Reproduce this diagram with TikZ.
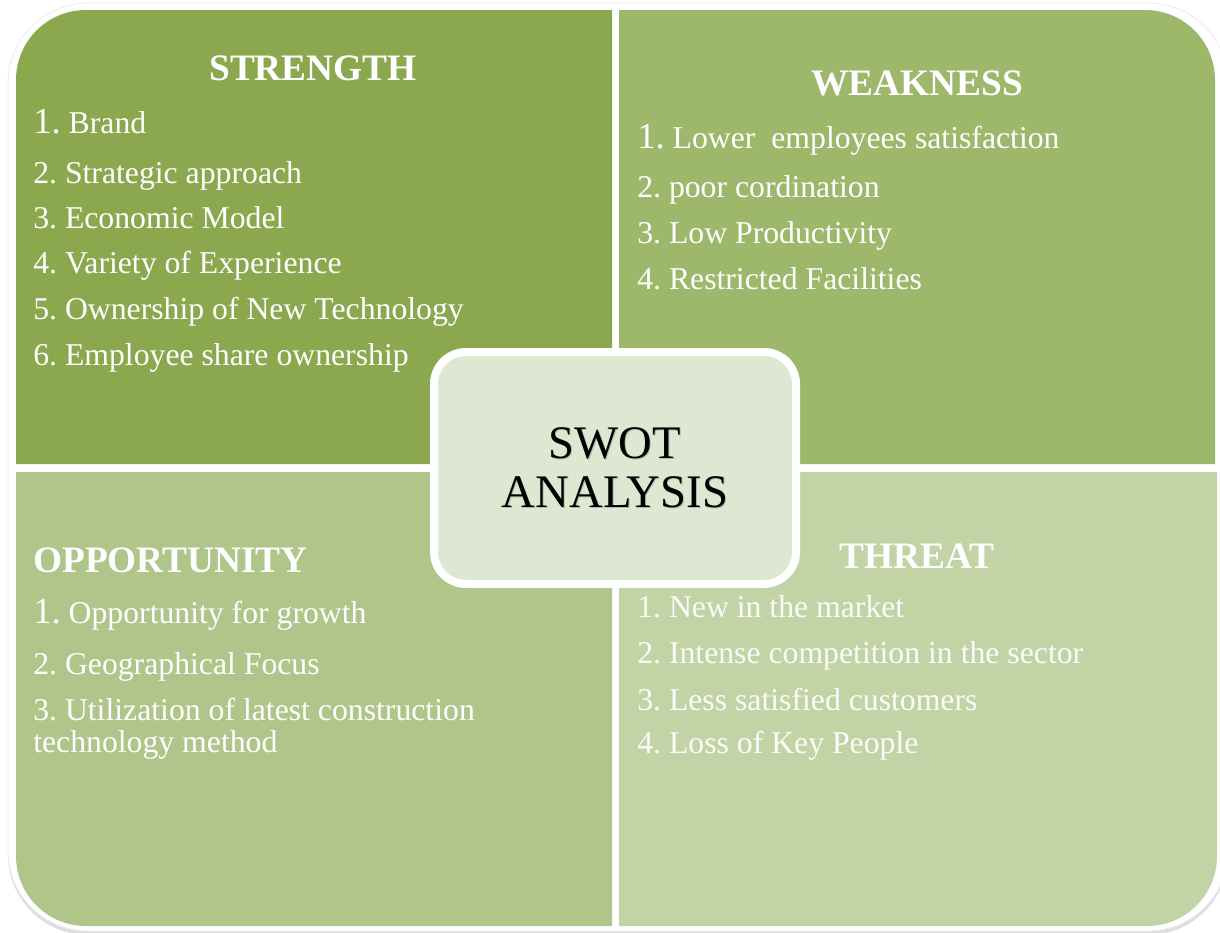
\documentclass[tikz,border=0pt]{standalone}
\usepackage{fontspec}
\setmainfont{Liberation Serif}
\usetikzlibrary{shadows}
\definecolor{cTL}{HTML}{8BA84F}
\definecolor{cTR}{HTML}{9DB76B}
\definecolor{cBL}{HTML}{AFC589}
\definecolor{cBR}{HTML}{C2D3A6}
\definecolor{cCenter}{HTML}{DEE7D1}
\newcommand{\bigone}{{\fontsize{27.5}{28}\selectfont 1.}}
\begin{document}
\frenchspacing
\begin{tikzpicture}[x=0.75pt,y=-0.75pt,
  title/.style={text=white, font=\fontsize{28}{30}\selectfont\bfseries, inner sep=0pt},
  item/.style={text=white, font=\fontsize{23.8}{26}\selectfont\frenchspacing, inner sep=0pt, anchor=base west},
  titem/.style={item, text=white!94!cBR},
  swot/.style={font=\fontsize{35}{36.75}\selectfont, anchor=base}]
\useasboundingbox (0,0) rectangle (1220,932);
% outer white frame with shadow
\filldraw[fill=white, draw=black!8, line width=0.6pt, drop shadow={opacity=0.25, shadow xshift=0pt, shadow yshift=-3pt}]
  (8,3) [rounded corners=60pt] rectangle (1228,931);
% quadrants
\fill[cTL] (16,464) -- (16,80) .. controls (16,41.3) and (47.3,10) .. (86,10) -- (612,10) -- (612,464) -- cycle;
\fill[cTR] (619,464) -- (619,10) -- (1145,10) .. controls (1183.7,10) and (1215,41.3) .. (1215,80) -- (1215,464) -- cycle;
\fill[cBL] (16,472) -- (612,472) -- (612,926) -- (86,926) .. controls (47.3,926) and (16,894.7) .. (16,856) -- cycle;
\fill[cBR] (619,472) -- (1217,472) -- (1217,856) .. controls (1217,894.7) and (1185.7,926) .. (1147,926) -- (619,926) -- cycle;
% STRENGTH
\node[title, anchor=base] (st) at (313,80) {STRENGTH};
\node[item] (s1) at (33,133) {\bigone\ Brand};
\node[item] (s2) at (33,183) {2. Strategic approach};
\node[item] (s3) at (33,228) {3. Economic Model};
\node[item] (s4) at (33,273) {4. Variety of Experience};
\node[item] (s5) at (33,319) {5. Ownership of New Technology};
\node[item] (s6) at (33,365) {6. Employee share ownership};
% WEAKNESS
\node[title, anchor=base] (wt) at (917,95) {WEAKNESS};
\node[item] (w1) at (637,148) {\bigone\ Lower\ \ employees satisfaction};
\node[item] (w2) at (637,197) {2. poor cordination};
\node[item] (w3) at (637,243) {3. Low Productivity};
\node[item] (w4) at (637,289) {4. Restricted Facilities};
% OPPORTUNITY
\node[title, anchor=base west] (ot) at (33,572) {OPPORTUNITY};
\node[item] (o1) at (33,623) {\bigone\ Opportunity for growth};
\node[item] (o2) at (33,674) {2. Geographical Focus};
\node[item] (o3) at (33,720) {3. Utilization of latest construction};
\node[item] (o3b) at (33,752) {technology method};
% THREAT
\node[title, anchor=base] (tt) at (917,568) {THREAT};
\node[titem] (t1) at (637,617) {1. New in the market};
\node[titem] (t2) at (637,663) {2. Intense competition in the sector};
\node[titem] (t3) at (637,710) {3. Less satisfied customers};
\node[titem] (t4) at (637,753) {4. Loss of Key People};
% centre box
\node[fill=cCenter, draw=white, line width=6pt, rounded corners=24pt,
      minimum width=271.5pt, minimum height=174pt,
      drop shadow={opacity=0.35, shadow xshift=1.5pt, shadow yshift=-3pt}] (box) at (615,468) {};
\node[swot, text=gray, text opacity=0.45] (swg) at (616,459.5) {SWOT};
\node[swot, text=gray, text opacity=0.45] (ang) at (616,508.5) {ANALYSIS};
\node[swot, text=black] (sw) at (615,458) {SWOT};
\node[swot, text=black] (an) at (615,507) {ANALYSIS};
\end{tikzpicture}
\end{document}
